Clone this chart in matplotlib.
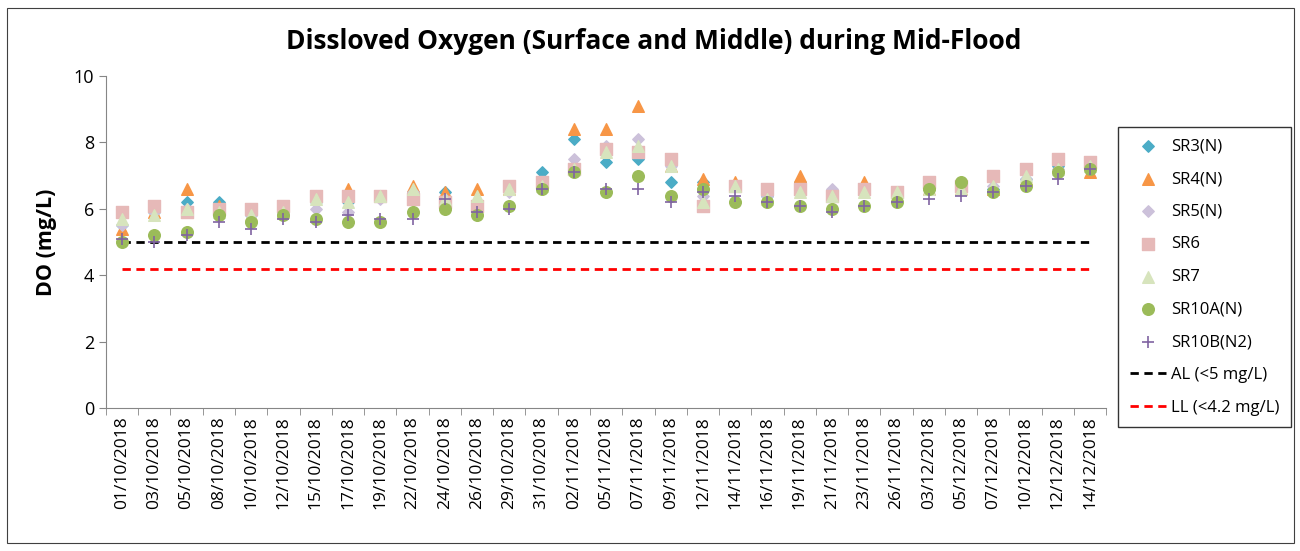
import matplotlib.pyplot as plt
from matplotlib.patches import Rectangle

plt.rcParams['font.family'] = ['Open Sans', 'DejaVu Sans']

dates = ["01/10/2018", "03/10/2018", "05/10/2018", "08/10/2018", "10/10/2018",
         "12/10/2018", "15/10/2018", "17/10/2018", "19/10/2018", "22/10/2018",
         "24/10/2018", "26/10/2018", "29/10/2018", "31/10/2018", "02/11/2018",
         "05/11/2018", "07/11/2018", "09/11/2018", "12/11/2018", "14/11/2018",
         "16/11/2018", "19/11/2018", "21/11/2018", "23/11/2018", "26/11/2018",
         "03/12/2018", "05/12/2018", "07/12/2018", "10/12/2018", "12/12/2018",
         "14/12/2018"]

sr3 = [5.5, 5.9, 6.2, 6.2, 5.8, 5.9, 6.2, 6.2, 6.4, 6.5, 6.5, 6.2, 6.6, 7.1, 8.1, 7.4,
       7.5, 6.8, 6.8, 6.7, 6.4, 6.8, 6.5, 6.6, 6.4, 6.6, 6.6, 6.6, 6.9, 7.3, 7.2]
sr4 = [5.4, 5.9, 6.6, 6.1, 5.8, 5.9, 6.4, 6.6, 6.4, 6.7, 6.5, 6.6, 6.6, 6.8, 8.4, 8.4,
       9.1, 7.3, 6.9, 6.8, 6.4, 7.0, 6.4, 6.8, 6.4, 6.6, 6.6, 6.6, 6.9, 7.3, 7.1]
sr5 = [5.5, 5.9, 6.0, 5.9, 5.8, 5.9, 6.0, 5.9, 6.3, 6.5, 6.3, 6.2, 6.5, 6.6, 7.5, 7.9,
       8.1, 7.3, 6.4, 6.7, 6.4, 6.6, 6.6, 6.6, 6.4, 6.6, 6.6, 6.7, 6.9, 7.2, 7.2]
sr6 = [5.9, 6.1, 5.9, 6.0, 6.0, 6.1, 6.4, 6.4, 6.4, 6.3, 6.2, 6.1, 6.7, 6.8, 7.2, 7.8,
       7.7, 7.5, 6.1, 6.7, 6.6, 6.6, 6.4, 6.6, 6.5, 6.8, 6.7, 7.0, 7.2, 7.5, 7.4]
sr7 = [5.7, 5.8, 6.0, 5.9, 5.8, 5.9, 6.3, 6.2, 6.4, 6.6, 6.3, 6.4, 6.6, 6.7, 7.2, 7.7,
       7.9, 7.3, 6.2, 6.7, 6.3, 6.5, 6.4, 6.5, 6.5, 6.6, 6.6, 6.7, 7.0, 7.2, 7.3]
sr10a = [5.0, 5.2, 5.3, 5.8, 5.6, 5.8, 5.7, 5.6, 5.6, 5.9, 6.0, 5.8, 6.1, 6.6, 7.1, 6.5,
         7.0, 6.4, 6.6, 6.2, 6.2, 6.1, 6.0, 6.1, 6.2, 6.6, 6.8, 6.5, 6.7, 7.1, 7.2]
sr10b = [5.1, 5.0, 5.2, 5.6, 5.4, 5.7, 5.6, 5.8, 5.7, 5.7, 6.3, 5.9, 6.0, 6.6, 7.1, 6.6,
         6.6, 6.2, 6.5, 6.4, 6.2, 6.1, 5.9, 6.1, 6.2, 6.3, 6.4, 6.5, 6.7, 6.9, 7.2]
al_limit = [5.0] * len(dates)
ll_limit = [4.2] * len(dates)

fig = plt.figure(figsize=(13, 5.51), dpi=100)
ax = fig.add_axes([0.0815, 0.2595, 0.7695, 0.6025])

x = list(range(len(dates)))
ax.scatter(x, sr3, marker="D", s=34, color="#4BACC6", label="SR3(N)", zorder=3)
ax.scatter(x, sr4, marker="^", s=70, color="#F79646", label="SR4(N)", zorder=3)
ax.scatter(x, sr5, marker="D", s=34, color="#CCC1DA", label="SR5(N)", zorder=3)
ax.scatter(x, sr6, marker="s", s=66, color="#E6B9B8", label="SR6", zorder=3)
ax.scatter(x, sr7, marker="^", s=70, color="#D7E4BD", label="SR7", zorder=3)
ax.scatter(x, sr10a, marker="o", s=70, color="#9BBB59", label="SR10A(N)", zorder=3)
ax.scatter(x, sr10b, marker="+", s=70, color="#8064A2", linewidths=1.2,
           label="SR10B(N2)", zorder=4)
ax.plot(x, al_limit, color="black", linestyle=(0, (3, 2)), linewidth=2,
        label="AL (<5 mg/L)", zorder=2)
ax.plot(x, ll_limit, color="red", linestyle=(0, (3, 2)), linewidth=2,
        label="LL (<4.2 mg/L)", zorder=2)

ax.set_xlim(-0.5, len(dates) - 0.5)
ax.set_ylim(0, 10)
ax.set_yticks([0, 2, 4, 6, 8, 10])
ax.set_xticks(x)
ax.set_xticklabels(dates, rotation=90, fontsize=12.5)
ax.set_xticks([i - 0.5 for i in range(len(dates) + 1)], minor=True)
ax.tick_params(axis="x", which="major", length=0, pad=6)
ax.tick_params(axis="x", which="minor", length=5, color="#868686")
ax.tick_params(axis="y", labelsize=13, length=5, color="#868686")
for side in ["top", "right"]:
    ax.spines[side].set_visible(False)
for side in ["left", "bottom"]:
    ax.spines[side].set_color("#868686")

ax.set_ylabel("DO (mg/L)", fontsize=15.5, fontweight="bold", labelpad=12)
fig.text(0.503, 0.924, "Dissloved Oxygen (Surface and Middle) during Mid-Flood",
         ha="center", va="center", fontsize=19, fontweight="bold")

leg = fig.legend(loc="upper left", bbox_to_anchor=(0.86, 0.77), fontsize=12,
                 frameon=True, fancybox=False, labelspacing=1.0, handlelength=2.2,
                 borderpad=0.7, handletextpad=0.3, borderaxespad=0)
leg.get_frame().set_edgecolor("black")
leg.get_frame().set_linewidth(1.0)

fig.patches.append(Rectangle((0.005, 0.015), 0.99, 0.97, transform=fig.transFigure,
                             fill=False, edgecolor="#404040", linewidth=0.8))

fig.savefig("out.png", dpi=100)
